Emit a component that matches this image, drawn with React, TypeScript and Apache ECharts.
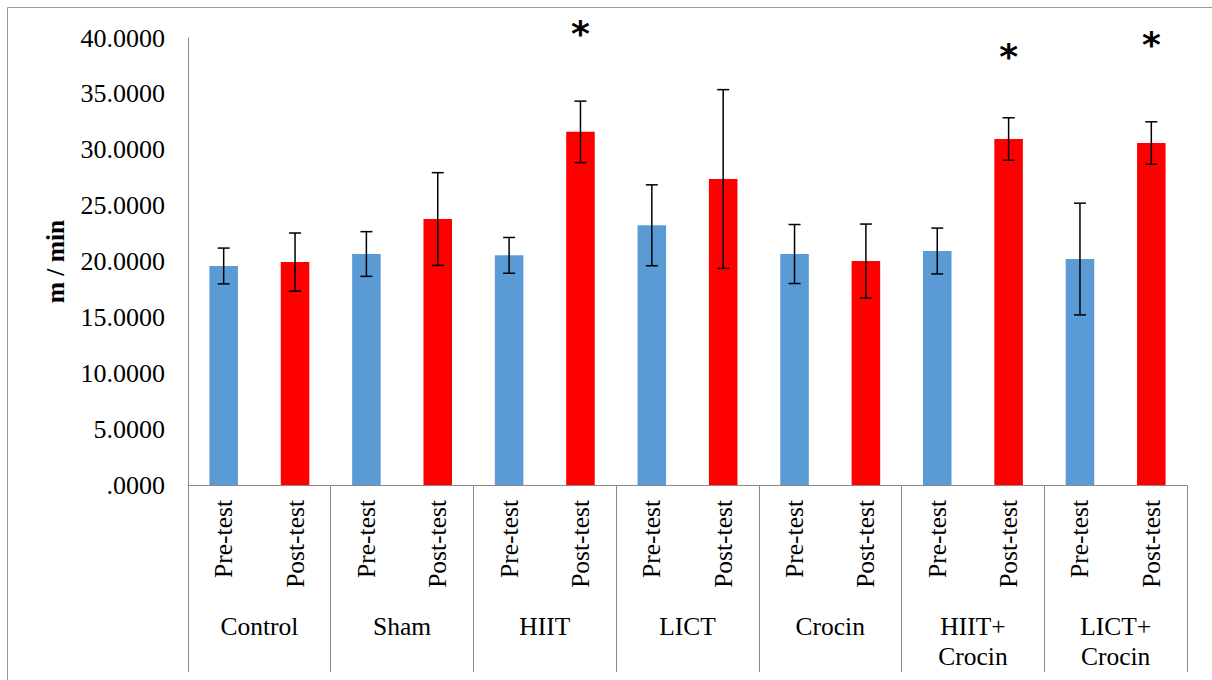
import React, { useEffect, useRef } from "react";
import * as echarts from "echarts";

const groups = ["Control", "Sham", "HIIT", "LICT", "Crocin", "HIIT+\nCrocin", "LICT+\nCrocin"];
const phases = ["Pre-test", "Post-test"];
const preMeans = [19.6, 20.67, 20.55, 23.24, 20.67, 20.94, 20.22];
const preErr = [1.6, 2.0, 1.6, 3.62, 2.64, 2.05, 5.0];
const postMeans = [19.95, 23.8, 31.6, 27.38, 20.04, 30.96, 30.6];
const postErr = [2.6, 4.15, 2.75, 8.0, 3.31, 1.9, 1.9];
// asterisk heights (in axis units), null = no mark
const postStarLevel = [null, null, 40.4, null, null, 38.3, 39.4];
const yTicks = [0, 5, 10, 15, 20, 25, 30, 35, 40];

const FONT = "Liberation Serif";
const BLUE = "#5B9BD5";
const RED = "#FF0000";
const AXIS_GRAY = "#8a8a8a";

export default function App() {
  const ref = useRef<HTMLDivElement>(null);

  useEffect(() => {
    if (!ref.current) return;
    const chart = echarts.init(ref.current, null, { renderer: "svg" });

    const categories: string[] = [];
    const barData: any[] = [];
    const errData: number[][] = [];
    const starData: number[][] = [];
    groups.forEach((g, i) => {
      categories.push(phases[0]);
      categories.push(phases[1]);
      barData.push({ value: preMeans[i], itemStyle: { color: BLUE } });
      barData.push({ value: postMeans[i], itemStyle: { color: RED } });
      errData.push([2 * i, preMeans[i] - preErr[i], preMeans[i] + preErr[i]]);
      errData.push([2 * i + 1, postMeans[i] - postErr[i], postMeans[i] + postErr[i]]);
      const s = postStarLevel[i];
      if (s !== null) starData.push([2 * i + 1, s]);
    });

    const option: any = {
      animation: false,
      backgroundColor: "#ffffff",
      textStyle: { fontFamily: FONT },
      grid: { left: 188, right: 25, top: 38, bottom: 195, containLabel: false },
      graphic: [
        {
          type: "rect",
          shape: { x: 7.5, y: 7.5, width: 1220, height: 690 },
          style: { fill: "none", stroke: "#9a9a9a", lineWidth: 1 },
          silent: true,
        },
      ],
      xAxis: [
        {
          type: "category",
          data: categories,
          position: "bottom",
          axisLine: { show: true, lineStyle: { color: AXIS_GRAY, width: 1 } },
          axisTick: { show: false },
          axisLabel: {
            interval: 0,
            rotate: 90,
            margin: 15,
            color: "#000",
            fontFamily: FONT,
            fontSize: 25.5,
          },
        },
        {
          type: "category",
          data: groups,
          position: "bottom",
          axisLine: { show: false },
          axisTick: { show: true, length: 187, lineStyle: { color: AXIS_GRAY, width: 1 } },
          axisLabel: {
            interval: 0,
            margin: 126,
            color: "#000",
            fontFamily: FONT,
            fontSize: 25.5,
            lineHeight: 30,
            verticalAlign: "top",
          },
        },
      ],
      yAxis: {
        type: "value",
        min: yTicks[0],
        max: yTicks[yTicks.length - 1],
        interval: 5,
        name: "m / min",
        nameLocation: "middle",
        nameGap: 120,
        nameRotate: 90,
        nameTextStyle: { fontFamily: FONT, fontSize: 25.5, fontWeight: "bold", color: "#000" },
        axisLine: { show: true, lineStyle: { color: AXIS_GRAY, width: 1 } },
        axisTick: { show: false },
        splitLine: { show: false },
        axisLabel: {
          margin: 23,
          color: "#000",
          fontFamily: FONT,
          fontSize: 26,
          formatter: (v: number) => (v === 0 ? ".0000" : v.toFixed(4)),
        },
      },
      series: [
        {
          type: "bar",
          xAxisIndex: 0,
          data: barData,
          barWidth: "40%",
        },
        {
          type: "custom",
          xAxisIndex: 0,
          data: errData,
          z: 5,
          renderItem: (params: any, api: any) => {
            const idx = api.value(0);
            const lo = api.coord([idx, api.value(1)]);
            const hi = api.coord([idx, api.value(2)]);
            const hw = 6;
            const style = { stroke: "#000", lineWidth: 1.5 };
            return {
              type: "group",
              children: [
                { type: "line", shape: { x1: hi[0], y1: hi[1], x2: lo[0], y2: lo[1] }, style },
                { type: "line", shape: { x1: hi[0] - hw, y1: hi[1], x2: hi[0] + hw, y2: hi[1] }, style },
                { type: "line", shape: { x1: lo[0] - hw, y1: lo[1], x2: lo[0] + hw, y2: lo[1] }, style },
              ],
            };
          },
        },
        {
          type: "custom",
          xAxisIndex: 0,
          data: starData,
          clip: false,
          z: 6,
          renderItem: (params: any, api: any) => {
            const p = api.coord([api.value(0), api.value(1)]);
            return {
              type: "text",
              x: p[0],
              y: p[1],
              style: {
                text: "*",
                fontSize: 36,
                fontWeight: "bold",
                fontFamily: "DejaVu Sans",
                fill: "#000",
                align: "center",
                verticalAlign: "middle",
              },
            };
          },
        },
      ],
    };

    chart.setOption(option);
    return () => chart.dispose();
  }, []);

  return (
    <div
      ref={ref}
      style={{ position: "absolute", left: 0, top: 0, width: 1212, height: 680, background: "#fff" }}
    />
  );
}
